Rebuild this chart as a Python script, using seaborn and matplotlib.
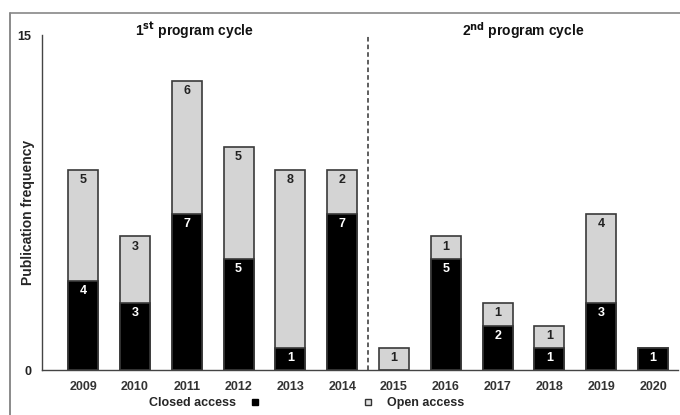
import matplotlib
matplotlib.use("agg")
import matplotlib.pyplot as plt
from matplotlib.lines import Line2D
import seaborn as sns
import pandas as pd

years = ["2009", "2010", "2011", "2012", "2013", "2014",
         "2015", "2016", "2017", "2018", "2019", "2020"]
closed_access = [4, 3, 7, 5, 1, 7, 0, 5, 2, 1, 3, 1]
open_access = [5, 3, 6, 5, 8, 2, 1, 1, 1, 1, 4, 0]
y_ticks = [0, 15]

sns.set_theme(style="white")
plt.rcParams["font.family"] = ["Liberation Sans", "DejaVu Sans"]
plt.rcParams["font.weight"] = "bold"

df = pd.DataFrame({"year": years, "closed": closed_access, "open": open_access})
df["total"] = df["closed"] + df["open"]

fig = plt.figure(figsize=(6.8, 4.15), dpi=100)
ax = fig.add_axes([0.062, 0.108, 0.935, 0.808])

edge = "#3a3a3a"
# open access drawn as full stack height, closed on top of it from the base
sns.barplot(data=df, x="year", y="total", color="#d4d4d4", edgecolor=edge,
            linewidth=1.2, width=0.58, saturation=1, ax=ax)
sns.barplot(data=df[df["closed"] > 0], x="year", y="closed", order=years,
            color="black", edgecolor=edge, linewidth=1.2, width=0.58,
            saturation=1, ax=ax)

for i, (c, o) in enumerate(zip(closed_access, open_access)):
    if c > 0:
        ax.text(i, c - 0.45, str(c), ha="center", va="center", color="white",
                fontsize=9, fontweight="bold")
    if o > 0:
        ax.text(i, c + o - 0.45, str(o), ha="center", va="center",
                color="#222222", fontsize=9, fontweight="bold")

ax.axvline(5.5, color="#333333", linestyle=(0, (3, 2)), linewidth=1.1)

ax.text(2.15, 15.25, r"1$^{\mathbf{st}}$ program cycle", ha="center", va="center",
        fontsize=10, fontweight="bold", color="#111111")
ax.text(8.5, 15.25, r"2$^{\mathbf{nd}}$ program cycle", ha="center", va="center",
        fontsize=10, fontweight="bold", color="#111111")

ax.set_xlim(-0.79, 11.48)
ax.set_ylim(0, 15.05)
ax.set_yticks(y_ticks)
ax.set_xlabel("")
ax.set_ylabel("Publication frequency", fontsize=10, fontweight="bold")
ax.yaxis.set_label_coords(-0.012, 0.47)
ax.tick_params(axis="both", length=0, labelsize=9, colors="#222222", pad=8)
ax.tick_params(axis="x", colors="#333333")
for lab in ax.get_xticklabels() + ax.get_yticklabels():
    lab.set_fontweight("bold")

sns.despine(ax=ax, top=True, right=True)
for s in ["left", "bottom"]:
    ax.spines[s].set_color("#444444")
    ax.spines[s].set_linewidth(1.0)

# legends below the axis
h_closed = Line2D([], [], marker="s", linestyle="none", markersize=5,
                  markerfacecolor="black", markeredgecolor="black")
h_open = Line2D([], [], marker="s", linestyle="none", markersize=5,
                markerfacecolor="#e4e4e4", markeredgecolor="#333333")
fig.legend([h_closed], ["Closed access"], loc="center", bbox_to_anchor=(0.306, 0.029),
           frameon=False, markerfirst=False, handletextpad=0.5,
           prop={"weight": "bold", "size": 9})
fig.legend([h_open], ["Open access"], loc="center", bbox_to_anchor=(0.603, 0.029),
           frameon=False, handletextpad=0.5, prop={"weight": "bold", "size": 9})

# frame lines of the cropped figure
fig.add_artist(Line2D([0.015, 0.015], [0, 0.969], color="#777777", linewidth=1.2))
fig.add_artist(Line2D([0.015, 1.0], [0.969, 0.969], color="#888888", linewidth=1.2))

fig.savefig("out.png", dpi=100)
